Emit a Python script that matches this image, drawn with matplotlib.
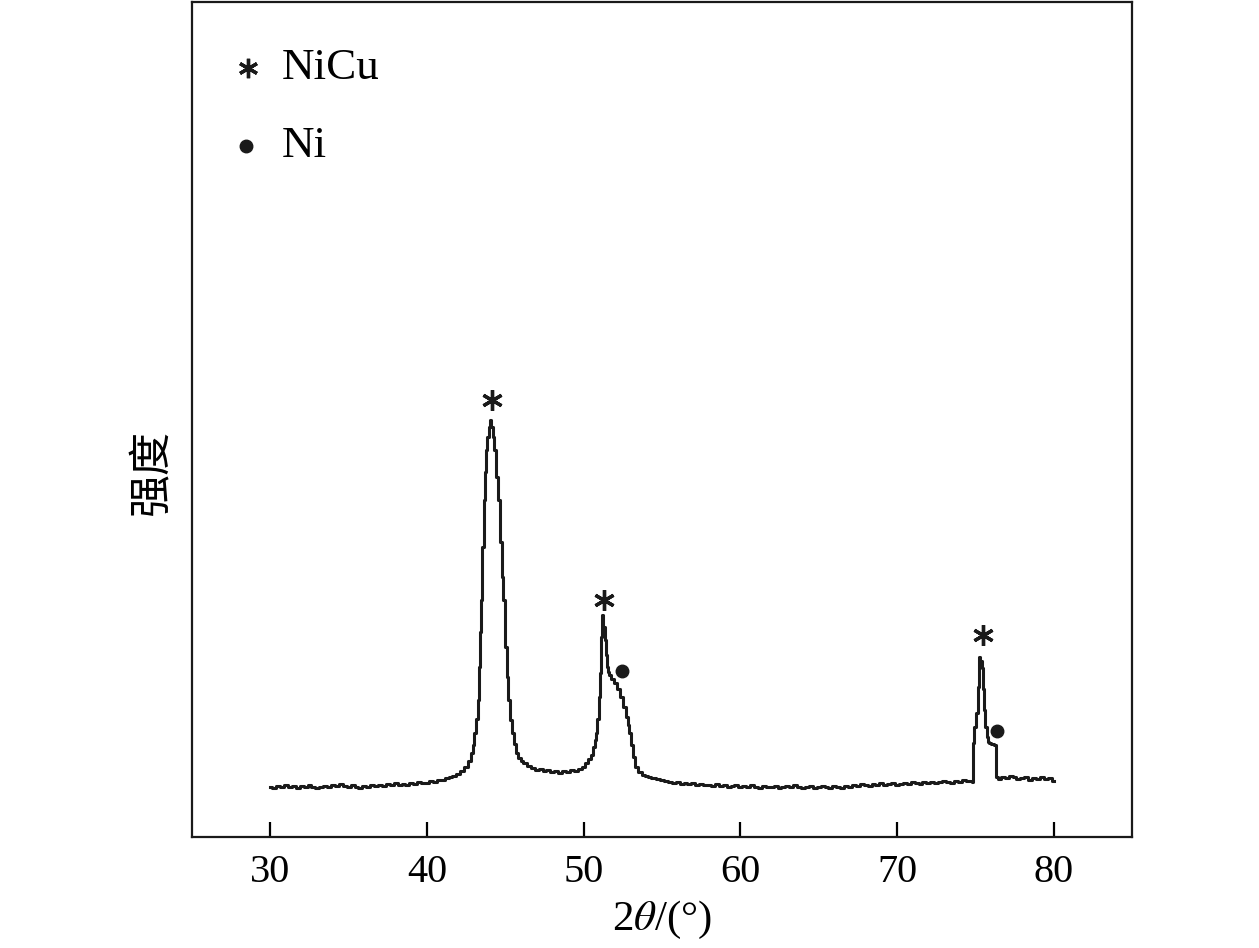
# XRD 图谱：NiCu / Ni
import matplotlib.pyplot as plt

plt.rcParams['font.family'] = ['Liberation Serif', 'Noto Sans CJK SC']
plt.rcParams['mathtext.fontset'] = 'stix'

# 2θ（°）与强度（a.u.）
two_theta = [
    30.0, 30.25, 30.5, 30.75, 31.0, 31.25, 31.5, 31.75, 32.0, 32.25, 32.5, 32.75,
    33.0, 33.25, 33.5, 33.75, 34.0, 34.25, 34.5, 34.75, 35.0, 35.25, 35.5, 35.75,
    36.0, 36.25, 36.5, 36.75, 37.0, 37.25, 37.5, 37.75, 38.0, 38.25, 38.5, 38.75,
    39.0, 39.25, 39.5, 39.75, 40.0, 40.25, 40.5, 40.75, 41.0, 41.25, 41.5, 41.75,
    42.0, 42.25, 42.5, 42.75, 42.86, 42.95, 43.07, 43.18, 43.29, 43.38, 43.45, 43.5,
    43.58, 43.67, 43.75, 43.82, 43.9, 43.97, 44.07, 44.15, 44.22, 44.35, 44.45, 44.56,
    44.7, 44.82, 44.92, 45.05, 45.15, 45.24, 45.36, 45.48, 45.6, 45.75, 45.9, 46.05,
    46.26, 46.5, 46.75, 47.0, 47.25, 47.5, 47.75, 48.0, 48.25, 48.5, 48.75, 49.0,
    49.25, 49.5, 49.75, 49.98, 50.2, 50.4, 50.51, 50.65, 50.75, 50.83, 50.92, 51.0,
    51.09, 51.15, 51.22, 51.3, 51.37, 51.45, 51.52, 51.58, 51.7, 51.85, 52.0, 52.2,
    52.42, 52.6, 52.75, 52.85, 52.96, 53.08, 53.21, 53.4, 53.6, 53.8, 54.0, 54.2,
    54.45, 54.75, 55.06, 55.25, 55.5, 55.75, 56.0, 56.25, 56.5, 56.75, 57.0, 57.25,
    57.5, 57.75, 58.0, 58.25, 58.5, 58.75, 59.0, 59.25, 59.5, 59.75, 60.0, 60.25,
    60.5, 60.75, 61.0, 61.25, 61.5, 61.75, 62.0, 62.25, 62.5, 62.75, 63.0, 63.25,
    63.5, 63.75, 64.0, 64.25, 64.5, 64.75, 65.0, 65.25, 65.5, 65.75, 66.0, 66.25,
    66.5, 66.75, 67.0, 67.25, 67.5, 67.75, 68.0, 68.25, 68.5, 68.75, 69.0, 69.25,
    69.5, 69.75, 70.0, 70.25, 70.5, 70.75, 71.0, 71.25, 71.5, 71.75, 72.0, 72.25,
    72.5, 72.75, 73.0, 73.25, 73.5, 73.75, 74.0, 74.25, 74.5, 74.75, 74.8, 74.86,
    75.0, 75.12, 75.2, 75.28, 75.36, 75.45, 75.52, 75.6, 75.68, 75.75, 75.85, 75.92,
    76.1, 76.3, 76.34, 76.5, 76.75, 77.0, 77.25, 77.5, 77.75, 78.0, 78.25, 78.5,
    78.75, 79.0, 79.25, 79.5, 79.75, 80.0,
]
intensity = [
    50, 49, 51, 50, 52, 50, 51, 49, 51, 50, 52, 50,
    49, 50, 51, 50, 52, 51, 53, 51, 50, 52, 50, 49,
    51, 50, 52, 51, 52, 51, 53, 52, 54, 52, 53, 52,
    54, 53, 55, 54, 54, 56, 55, 57, 57, 59, 60, 61,
    63, 66, 70, 76, 84, 92, 104, 118, 137, 170, 205, 237,
    290, 337, 365, 387, 400, 410, 417, 410, 400, 387, 360, 337,
    295, 260, 237, 190, 160, 137, 117, 104, 93, 84, 79, 76,
    74, 71, 69, 67, 68, 66, 67, 65, 66, 64, 66, 65,
    67, 66, 68, 70, 74, 78, 82, 90, 97, 104, 118, 140,
    164, 200, 222, 210, 197, 182, 170, 165, 162, 158, 154, 148,
    140, 130, 120, 112, 104, 92, 80, 70, 65, 62, 61, 60,
    59, 58, 57, 56, 55, 54, 55, 53, 54, 53, 54, 52,
    53, 52, 52, 51, 53, 51, 52, 50, 51, 52, 50, 51,
    50, 52, 50, 49, 51, 50, 50, 51, 49, 50, 51, 50,
    52, 50, 49, 50, 51, 49, 50, 51, 50, 49, 51, 50,
    49, 51, 50, 52, 51, 53, 52, 51, 53, 52, 54, 52,
    53, 54, 52, 53, 54, 53, 55, 54, 53, 55, 54, 55,
    54, 55, 56, 55, 54, 56, 55, 57, 56, 56, 55, 94,
    110, 124, 150, 180, 176, 169, 148, 127, 110, 100, 95, 94,
    93, 92, 60, 58, 60, 59, 61, 60, 58, 59, 60, 57,
    59, 58, 60, 58, 59, 56,
]

# 峰标记位置
nicu_x = [44.16, 51.3, 75.47]
nicu_y = [437, 237, 202]
ni_x = [52.45, 76.37]
ni_y = [166, 106]

fig = plt.figure(figsize=(12.59, 9.48), dpi=100)
ax = fig.add_axes([0.1525, 0.1171, 0.7466, 0.8813])

ax.plot(two_theta, intensity, color='#1a1a1a', linewidth=2.2,
        drawstyle='steps-mid')

star = (6, 2, 0)
ax.plot(nicu_x, nicu_y, linestyle='none', marker=star, markersize=15,
        markeredgewidth=2.4, color='#1a1a1a')
ax.plot(ni_x, ni_y, linestyle='none', marker='o', markersize=9,
        color='#1a1a1a')

# 图例（手动放置）
ax.plot([0.0596], [0.9199], transform=ax.transAxes, marker=star,
        markersize=14, markeredgewidth=2.4, color='#1a1a1a', clip_on=False)
ax.text(0.096, 0.9199, 'NiCu', transform=ax.transAxes, fontsize=32.5,
        ha='left', va='center')
ax.plot([0.0574], [0.8266], transform=ax.transAxes, marker='o',
        markersize=9, color='#1a1a1a', clip_on=False)
ax.text(0.096, 0.8266, 'Ni', transform=ax.transAxes, fontsize=32.5,
        ha='left', va='center')

ax.set_xlim(25, 85)
ax.set_ylim(0, 836)
ax.set_xticks([30, 40, 50, 60, 70, 80])
ax.set_yticks([])
ax.tick_params(axis='x', direction='in', length=11, width=1.6,
               labelsize=29, pad=12)
for s in ax.spines.values():
    s.set_linewidth(1.6)
    s.set_color('#1a1a1a')

ax.set_xlabel(r'2$\theta$/(°)', fontsize=31, labelpad=6)
ax.set_ylabel('强度', fontsize=31,
              family=['Noto Sans CJK SC', 'DejaVu Sans'])
ax.yaxis.set_label_coords(-0.019, 0.4366)

fig.savefig('out.png', dpi=100)
